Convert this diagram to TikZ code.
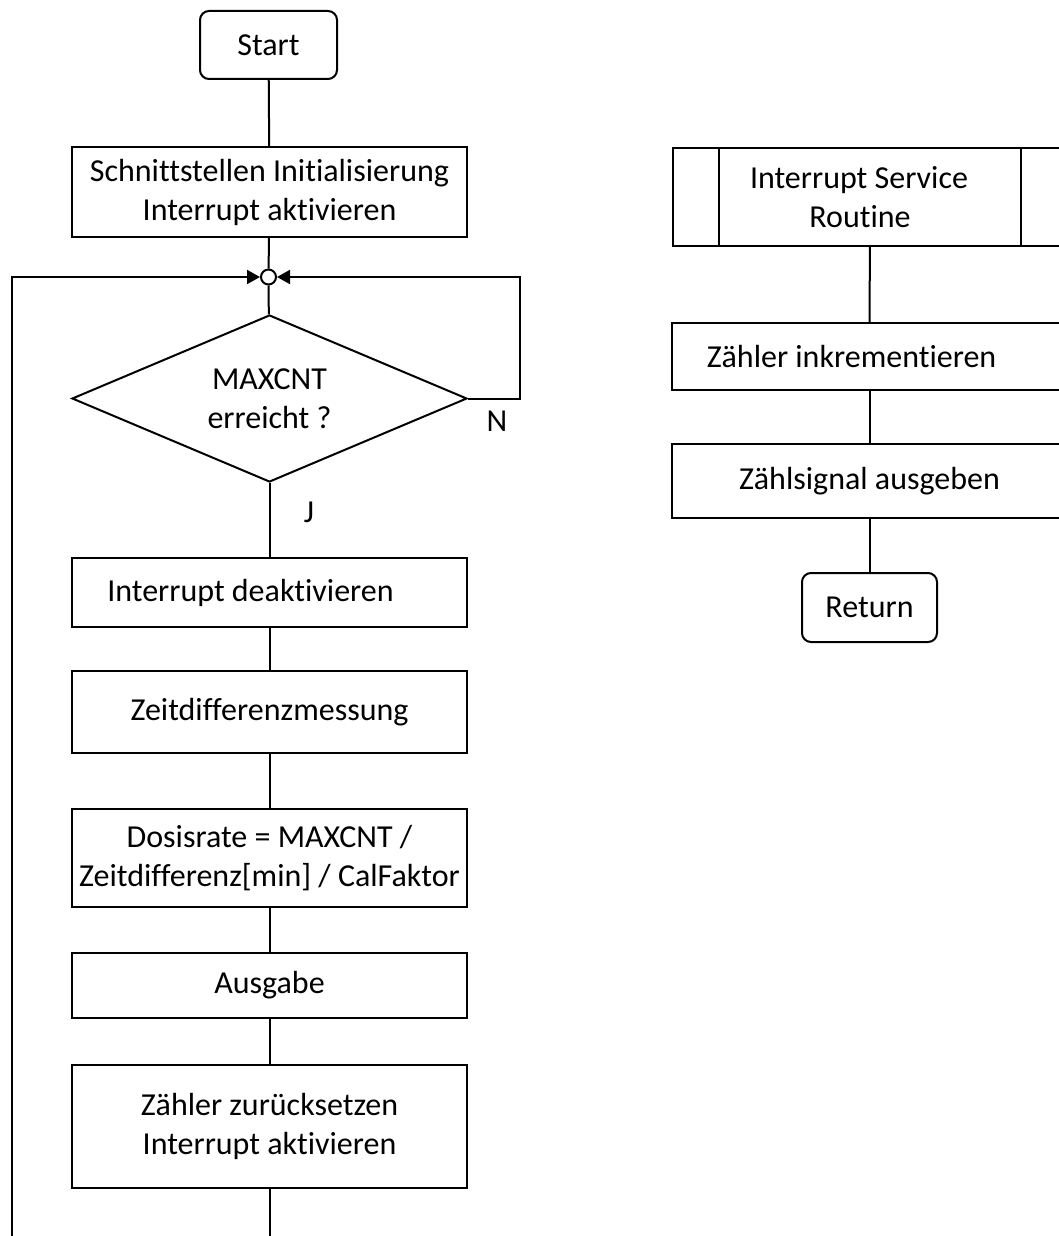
\documentclass[tikz,border=0pt]{standalone}
\usepackage{fontspec}
\setmainfont[Ligatures={NoCommon}]{Carlito}
\usetikzlibrary{shapes.geometric,arrows.meta}
\tikzset{
  base/.style={draw=black, line width=2pt, fill=white, inner sep=0pt, align=center, font=\fontsize{32}{39}\selectfont},
  procbox/.style={base, rectangle},
  termbox/.style={base, rectangle, rounded corners=9pt},
  decbox/.style={base, diamond, aspect=2.37},
  conn/.style={line width=2pt},
  arr/.style={conn, -{Triangle[length=13pt,width=14pt]}},
  lbl/.style={font=\fontsize{32}{39}\selectfont, inner sep=0pt}
}
\begin{document}
\begin{tikzpicture}[x=1pt,y=-1pt]
\clip (0,0) rectangle (1059,1236);
\fill[white] (0,0) rectangle (1059,1236);
% left column
\node[termbox, minimum width=137pt, minimum height=68pt] (start) at (268.5,45) {Start};
\node[procbox, minimum width=395pt, minimum height=90pt] (init) at (269.5,192) {Schnittstellen Initialisierung\\Interrupt aktivieren};
\node[circle, draw=black, line width=2pt, fill=white, inner sep=0pt, minimum size=15pt] (merge) at (268.5,277) {};
\node[decbox, minimum width=395pt, minimum height=167pt] (dec) at (269.5,398.5) {MAXCNT\\erreicht ?};
\node[procbox, minimum width=395pt, minimum height=69pt] (deakt) at (269.5,592.5) {Interrupt deaktivieren\hspace*{38pt}};
\node[procbox, minimum width=395pt, minimum height=82pt] (zeit) at (269.5,712) {Zeitdifferenzmessung};
\node[procbox, minimum width=395pt, minimum height=98pt] (dosis) at (269.5,858) {Dosisrate = MAXCNT /\\Zeitdifferenz[min] / CalFaktor};
\node[procbox, minimum width=395pt, minimum height=65pt] (ausgabe) at (269.5,985.5) {Ausgabe};
\node[procbox, minimum width=395pt, minimum height=123pt] (reset) at (269.5,1126.5) {Zähler zurücksetzen\\Interrupt aktivieren};
\coordinate (bottomend) at (269.5,1240);
\coordinate (leftbottom) at (12,1240);
\coordinate (lefttop) at (12,277);
\coordinate (righttop) at (520,277);
\coordinate (rightmid) at (520,398.5);
\node[lbl] (N) at (497,421) {N};
\node[lbl] (J) at (309,512) {J};

\draw[conn] (start) -- (init);
\draw[conn] (init) -- (merge);
\draw[conn] (merge) -- (dec);
\draw[conn] (dec) -- (deakt);
\draw[conn] (deakt) -- (zeit);
\draw[conn] (zeit) -- (dosis);
\draw[conn] (dosis) -- (ausgabe);
\draw[conn] (ausgabe) -- (reset);
\draw[conn] (reset) -- (bottomend);
\draw[arr] (leftbottom) -- (lefttop) -- (merge);
\draw[arr] (dec.east) -- (rightmid) -- (righttop) -- (merge);

% right column
\node[procbox, minimum width=394pt, minimum height=98pt] (isr) at (870,197) {\hspace*{-22pt}Interrupt Service\\\hspace*{-20pt}Routine};
\draw[line width=2pt] ([xshift=47pt]isr.north west) -- ([xshift=47pt]isr.south west);
\draw[line width=2pt] ([xshift=-47pt]isr.north east) -- ([xshift=-47pt]isr.south east);
\node[procbox, minimum width=395pt, minimum height=67pt] (inkr) at (869.5,356.5) {Zähler inkrementieren\hspace*{36pt}};
\node[procbox, minimum width=395pt, minimum height=74pt] (signal) at (869.5,481) {Zählsignal ausgeben};
\node[termbox, minimum width=135pt, minimum height=69pt] (ret) at (869.5,607.5) {Return};
\draw[conn] (isr) -- (inkr);
\draw[conn] (inkr) -- (signal);
\draw[conn] (signal) -- (ret);
\end{tikzpicture}
\end{document}
